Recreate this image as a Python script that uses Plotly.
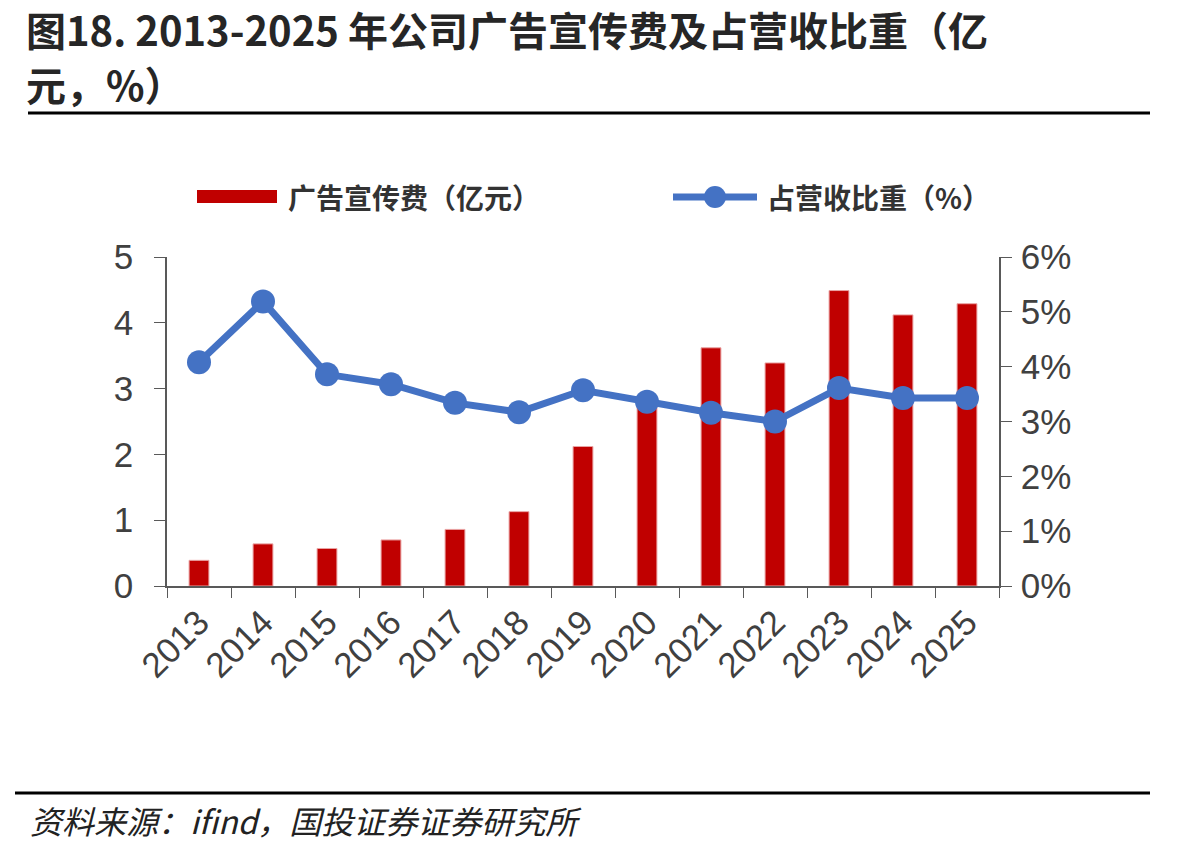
import plotly.graph_objects as go

years = [str(y) for y in range(2013, 2026)]
ad_expense = [0.39, 0.64, 0.57, 0.70, 0.86, 1.13, 2.12, 2.85, 3.62, 3.39, 4.49, 4.12, 4.29]
ratio_pct = [4.08, 5.19, 3.86, 3.68, 3.34, 3.17, 3.57, 3.36, 3.16, 3.00, 3.61, 3.43, 3.43]
left_ticks = [0, 1, 2, 3, 4, 5]
right_ticks = [0, 1, 2, 3, 4, 5, 6]
right_tick_text = [f"{v}%" for v in right_ticks]

title_line1 = "图18. 2013-2025 年公司广告宣传费及占营收比重（亿"
title_line2 = "元，%）"
legend_bar = "广告宣传费（亿元）"
legend_line = "占营收比重（%）"
source = "资料来源：ifind，国投证券证券研究所"

W, H = 1195, 850
L, R, T, B = 167, 999, 257, 586

def px(x):
    return (x - L) / (R - L)

def py(y):
    return (B - y) / (B - T)

RED = "#C00000"
BLUE = "#4472C4"
AX = "#595959"
TXT = "#404040"
CJK = "Noto Sans CJK SC"
LAT = "Liberation Sans, Arial, sans-serif"

fig = go.Figure()
fig.add_trace(go.Bar(
    x=years, y=ad_expense, width=0.31,
    marker=dict(color=RED, line=dict(color="#E9A3A3", width=1)),
    showlegend=False, yaxis="y"))
fig.add_trace(go.Scatter(
    x=years, y=ratio_pct, mode="lines+markers",
    line=dict(color=BLUE, width=7),
    marker=dict(color=BLUE, size=24),
    showlegend=False, yaxis="y2"))

fig.update_layout(
    width=W, height=H,
    margin=dict(l=L, r=W - R, t=T, b=H - B),
    paper_bgcolor="white", plot_bgcolor="white",
    xaxis=dict(type="category", range=[-0.5, 12.5], tickson="boundaries",
               ticks="outside", ticklen=10, tickcolor=AX, showline=True,
               linecolor=AX, linewidth=1.5, showgrid=False, tickangle=-45,
               tickfont=dict(family=LAT, size=35, color=TXT)),
    yaxis=dict(range=[0, 5], tickvals=left_ticks, ticks="outside", ticklen=11,
               tickcolor=AX, showline=True, linecolor=AX, linewidth=1.5,
               showgrid=False, zeroline=False, ticklabelstandoff=14,
               tickfont=dict(family=LAT, size=35, color=TXT)),
    yaxis2=dict(range=[0, 6], tickvals=right_ticks, ticktext=right_tick_text,
                overlaying="y", side="right", ticks="outside", ticklen=11,
                tickcolor=AX, showline=True, linecolor=AX, linewidth=1.5,
                showgrid=False, zeroline=False, ticklabelstandoff=2,
                tickfont=dict(family=LAT, size=35, color=TXT)),
)

shapes = []
annotations = []
# title
annotations.append(dict(xref="paper", yref="paper", x=px(24), y=py(29), xanchor="left",
                        yanchor="middle", showarrow=False, text="<b>" + title_line1 + "</b>",
                        font=dict(family=CJK, size=40, color="#262626")))
annotations.append(dict(xref="paper", yref="paper", x=px(24), y=py(84), xanchor="left",
                        yanchor="middle", showarrow=False, text="<b>" + title_line2 + "</b>",
                        font=dict(family=CJK, size=40, color="#262626")))
shapes.append(dict(type="line", xref="paper", yref="paper", x0=px(28), x1=px(1150),
                   y0=py(113), y1=py(113), line=dict(color="black", width=3)))
# legend
shapes.append(dict(type="rect", xref="paper", yref="paper", x0=px(197), x1=px(277),
                   y0=py(190), y1=py(203), fillcolor=RED, line=dict(width=0)))
annotations.append(dict(xref="paper", yref="paper", x=px(286), y=py(197), xanchor="left",
                        yanchor="middle", showarrow=False, text="<b>" + legend_bar + "</b>",
                        font=dict(family=CJK, size=28, color="#333333")))
shapes.append(dict(type="line", xref="paper", yref="paper", x0=px(673), x1=px(757),
                   y0=py(197), y1=py(197), line=dict(color=BLUE, width=7)))
shapes.append(dict(type="circle", xref="paper", yref="paper", x0=px(704), x1=px(726),
                   y0=py(186), y1=py(208), fillcolor=BLUE, line=dict(width=0)))
annotations.append(dict(xref="paper", yref="paper", x=px(765), y=py(197), xanchor="left",
                        yanchor="middle", showarrow=False, text="<b>" + legend_line + "</b>",
                        font=dict(family=CJK, size=28, color="#333333")))
# source
shapes.append(dict(type="line", xref="paper", yref="paper", x0=px(15), x1=px(1150),
                   y0=py(793), y1=py(793), line=dict(color="black", width=3)))
annotations.append(dict(xref="paper", yref="paper", x=px(28), y=py(820), xanchor="left",
                        yanchor="middle", showarrow=False, text="<i>" + source + "</i>",
                        font=dict(family=CJK, size=32, color="#222222")))

fig.update_layout(shapes=shapes, annotations=annotations)
fig.write_html("out.html")
